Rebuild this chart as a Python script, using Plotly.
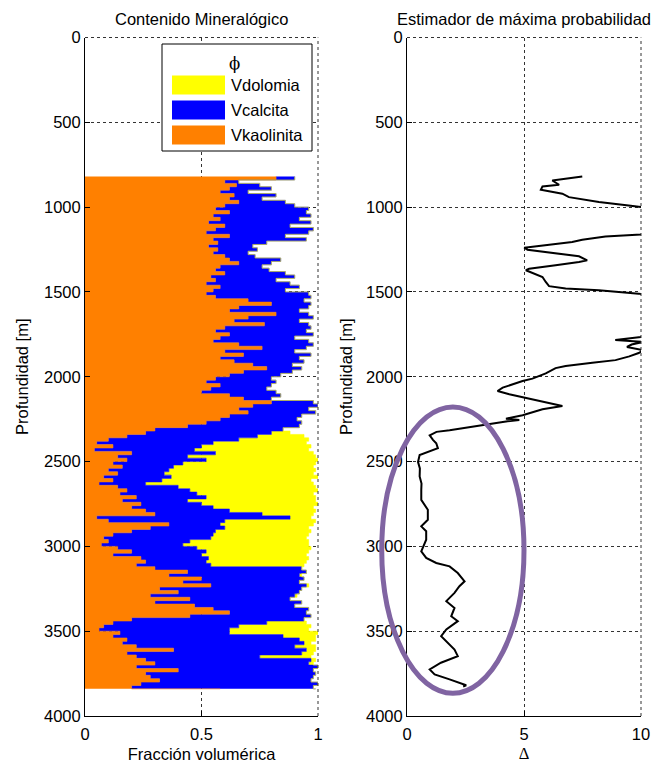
import plotly.graph_objects as go

# ---------------- data ----------------
depth = [820, 840, 860, 880, 900, 920, 940, 960, 980, 1000,
         1020, 1040, 1060, 1080, 1100, 1120, 1140, 1160, 1180, 1200,
         1220, 1240, 1260, 1280, 1300, 1320, 1340, 1360, 1380, 1400,
         1420, 1440, 1460, 1480, 1500, 1520, 1540, 1560, 1580, 1600,
         1620, 1640, 1660, 1680, 1700, 1720, 1740, 1760, 1780, 1800,
         1820, 1840, 1860, 1880, 1900, 1920, 1940, 1960, 1980, 2000,
         2020, 2040, 2060, 2080, 2100, 2120, 2140, 2160, 2180, 2200,
         2220, 2240, 2260, 2280, 2300, 2320, 2340, 2360, 2380, 2400,
         2420, 2440, 2460, 2480, 2500, 2520, 2540, 2560, 2580, 2600,
         2620, 2640, 2660, 2680, 2700, 2720, 2740, 2760, 2780, 2800,
         2820, 2840, 2860, 2880, 2900, 2920, 2940, 2960, 2980, 3000,
         3020, 3040, 3060, 3080, 3100, 3120, 3140, 3160, 3180, 3200,
         3220, 3240, 3260, 3280, 3300, 3320, 3340, 3360, 3380, 3400,
         3420, 3440, 3460, 3480, 3500, 3520, 3540, 3560, 3580, 3600,
         3620, 3640, 3660, 3680, 3700, 3720, 3740, 3760, 3780, 3800,
         3820, 3840]

Vkaolinita = [.82, .60, .65, .62, .58, .64, .62, .66, .60, .56,
              .62, .55, .58, .53, .60, .56, .52, .62, .55, .57,
              .53, .57, .55, .60, .62, .66, .58, .56, .60, .54,
              .56, .52, .58, .55, .52, .56, .70, .80, .66, .62,
              .82, .70, .64, .77, .60, .56, .62, .58, .55, .66,
              .76, .60, .68, .58, .64, .72, .78, .68, .62, .56,
              .52, .58, .54, .50, .62, .68, .80, .72, .66, .70,
              .62, .58, .52, .44, .30, .26, .18, .10, .05, .12,
              .04, .20, .14, .18, .12, .16, .10, .14, .08, .12,
              .06, .14, .18, .15, .22, .16, .24, .20, .26, .30,
              .05, .10, .36, .28, .20, .12, .08, .10, .07, .14,
              .20, .12, .24, .26, .22, .30, .44, .36, .50, .42,
              .54, .32, .40, .28, .45, .30, .47, .55, .62, .45,
              .20, .12, .08, .06, .15, .12, .18, .16, .22, .38,
              .18, .22, .26, .30, .22, .40, .26, .28, .32, .24,
              .20, .58]

Vcalcita = [.08, .06, .10, .18, .12, .18, .14, .20, .30, .40,
            .33, .42, .34, .44, .28, .42, .44, .24, .40, .21,
            .19, .17, .15, .13, .22, .14, .18, .23, .26, .36,
            .26, .36, .34, .31, .44, .41, .24, .17, .30, .30,
            .14, .28, .28, .19, .37, .39, .36, .32, .41, .32,
            .19, .30, .29, .34, .30, .17, .15, .21, .22, .24,
            .30, .22, .24, .32, .22, .12, .18, .28, .30, .29,
            .31, .33, .41, .48, .55, .54, .56, .56, .50, .38,
            .43, .36, .30, .34, .30, .22, .26, .20, .29, .21,
            .20, .26, .27, .33, .30, .28, .26, .35, .36, .46,
            .83, .50, .22, .32, .36, .43, .46, .35, .35, .34,
            .32, .38, .29, .26, .32, .63, .51, .56, .44, .50,
            .41, .61, .52, .62, .43, .63, .43, .41, .33, .52,
            .74, .66, .58, .56, .47, .73, .74, .78, .68, .57,
            .75, .53, .71, .66, .78, .58, .73, .70, .65, .76,
            .78, .41]

Vdolomia = [0, 0, 0, 0, 0, 0, 0, 0, 0, 0,
            0, 0, 0, 0, 0, 0, 0, 0, 0, 0,
            0, 0, 0, 0, 0, 0, 0, 0, 0, 0,
            0, 0, 0, 0, 0, 0, 0, 0, 0, 0,
            0, 0, 0, 0, 0, 0, 0, 0, 0, 0,
            0, 0, 0, 0, 0, 0, 0, 0, 0, 0,
            0, 0, 0, 0, 0, 0, 0, 0, 0, 0,
            0, 0, 0, 0, 0, .08, .20, .30, .40, .47,
            .49, .42, .55, .48, .57, .60, .63, .64, .63, .64,
            .72, .59, .55, .50, .47, .55, .50, .43, .37, .22,
            .09, .39, .40, .36, .41, .41, .41, .51, .54, .49,
            .44, .45, .43, .43, .40, 0, 0, .01, 0, 0,
            .01, 0, 0, .01, 0, 0, 0, 0, 0, 0,
            0, .17, .31, .34, .38, .14, .07, .03, .09, .04,
            .05, .22, .02, .02, 0, 0, 0, 0, 0, 0,
            0, 0]

# maximum-likelihood estimator profile (Delta vs depth)
delta_depth = [819, 843, 868, 878, 898, 921, 941, 970, 990, 1000,
               1080, 1161, 1173, 1192, 1206, 1225, 1239, 1251, 1270, 1290,
               1314, 1323, 1343, 1363, 1372, 1396, 1412, 1441, 1466, 1480,
               1490, 1510, 1520, 1640, 1765, 1784, 1794, 1810, 1824, 1843,
               1860, 1880, 1902, 1917, 1937, 1949, 1980, 2011, 2025, 2064,
               2084, 2103, 2133, 2172, 2192, 2227, 2247, 2255, 2262, 2286,
               2315, 2325, 2345, 2372, 2392, 2421, 2461, 2502, 2540, 2588,
               2630, 2667, 2726, 2784, 2843, 2882, 2911, 2961, 3029, 3068,
               3098, 3118, 3157, 3206, 3235, 3274, 3323, 3363, 3412, 3441,
               3490, 3529, 3568, 3608, 3647, 3686, 3725, 3755, 3784, 3819,
               3826]
delta_val = [7.49, 6.21, 6.50, 5.79, 5.72, 6.64, 6.92, 8.20, 9.47, 10.0,
             11.5, 10.0, 8.48, 7.49, 7.06, 5.93, 5.01, 5.15, 6.35, 7.35,
             7.70, 7.35, 6.35, 5.22, 5.08, 5.50, 5.79, 5.93, 6.07, 6.78,
             8.20, 9.90, 10.3, 11.5, 10.0, 8.90, 10.1, 9.60, 9.40, 10.1,
             9.90, 9.50, 8.91, 7.92, 6.78, 6.35, 5.93, 5.36, 4.94, 4.09,
             3.87, 4.37, 5.36, 6.64, 5.79, 4.94, 4.23, 4.80, 4.30, 3.24,
             1.82, 1.26, 0.97, 1.11, 1.25, 1.32, 0.54, 0.47, 0.55, 0.54,
             0.62, 0.61, 0.61, 0.89, 0.89, 0.61, 0.82, 0.82, 0.61, 0.82,
             1.25, 1.82, 2.17, 2.46, 2.24, 2.03, 1.68, 2.03, 1.89, 2.17,
             1.68, 1.46, 1.74, 2.03, 2.17, 1.45, 0.97, 1.18, 1.82, 2.53,
             2.40]

# highlight ellipse (data units of right panel)
ellipse_x = [-1.08, 5.0]
ellipse_y = [2178, 3866]

mineral_names = ["Vkaolinita", "Vcalcita", "Vdolomia"]
mineral_colors = ["#FF8000", "#0000FF", "#FFFF00"]
mineral_values = [Vkaolinita, Vcalcita, Vdolomia]

x_ticks_left = [0, 0.5, 1]
x_ticks_right = [0, 5, 10]
y_ticks = [0, 500, 1000, 1500, 2000, 2500, 3000, 3500, 4000]

# ---------------- layout geometry ----------------
W, H = 657, 763
dom_x1 = [85 / W, 318 / W]
dom_x2 = [407 / W, 641 / W]
dom_y = [1 - 716 / H, 1 - 37.5 / H]
rng_x1 = [0, 1]
rng_x2 = [0, 10]
rng_y = [4000, 0]

FONT = "Liberation Sans, Arial, sans-serif"
FS = 16.5


def to_paper(dom, rng, v):
    return dom[0] + (v - rng[0]) / (rng[1] - rng[0]) * (dom[1] - dom[0])


fig = go.Figure()

for name, col, vals in zip(mineral_names, mineral_colors, mineral_values):
    fig.add_trace(go.Scatter(
        x=vals, y=depth, name=name, mode="lines",
        stackgroup="min", orientation="h",
        line=dict(color=col, width=0.6, shape="vh"),
        fillcolor=col, showlegend=False,
        xaxis="x", yaxis="y"))

fig.add_trace(go.Scatter(
    x=delta_val, y=delta_depth, mode="lines", name="Δ",
    line=dict(color="black", width=2), showlegend=False,
    xaxis="x2", yaxis="y2"))

axis_common = dict(
    showline=True, linecolor="black", linewidth=1, mirror=False,
    showgrid=True, gridcolor="#333333", griddash="dot", gridwidth=1,
    zeroline=False, ticks="inside", ticklen=5, tickcolor="black",
    tickfont=dict(family=FONT, size=FS, color="black"),
    automargin=False,
)

fig.update_layout(
    width=W, height=H,
    margin=dict(l=0, r=0, t=0, b=0),
    paper_bgcolor="white", plot_bgcolor="white",
    font=dict(family=FONT, size=FS, color="black"),
    xaxis=dict(domain=dom_x1, range=rng_x1, anchor="y", tickvals=x_ticks_left,
               ticktext=["0", "0.5", "1"], ticklabelstandoff=3,
               title=dict(text="Fracción volumérica", standoff=6,
                          font=dict(family=FONT, size=FS)), **axis_common),
    yaxis=dict(domain=dom_y, range=rng_y, anchor="x", tickvals=y_ticks,
               title=dict(text="Profundidad [m]", standoff=11,
                          font=dict(family=FONT, size=FS)), **axis_common),
    xaxis2=dict(domain=dom_x2, range=rng_x2, anchor="y2", tickvals=x_ticks_right,
                ticklabelstandoff=3,
                title=dict(text="Δ", standoff=6,
                           font=dict(family="Liberation Serif, Times New Roman, serif", size=FS)),
                **axis_common),
    yaxis2=dict(domain=dom_y, range=rng_y, anchor="x2", tickvals=y_ticks,
                title=dict(text="Profundidad [m]", standoff=9,
                           font=dict(family=FONT, size=FS)), **axis_common),
)

shapes = []
# dotted top / right frame lines (MATLAB grid at range ends)
for dx in (dom_x1, dom_x2):
    shapes.append(dict(type="line", xref="paper", yref="paper",
                       x0=dx[0], x1=dx[1], y0=dom_y[1], y1=dom_y[1],
                       line=dict(color="#333333", width=1, dash="dot")))
    shapes.append(dict(type="line", xref="paper", yref="paper",
                       x0=dx[1], x1=dx[1], y0=dom_y[0], y1=dom_y[1],
                       line=dict(color="#333333", width=1, dash="dot")))

# highlight ellipse
shapes.append(dict(type="circle", xref="paper", yref="paper",
                   x0=to_paper(dom_x2, rng_x2, ellipse_x[0]),
                   x1=to_paper(dom_x2, rng_x2, ellipse_x[1]),
                   y0=to_paper(dom_y, rng_y, ellipse_y[1]),
                   y1=to_paper(dom_y, rng_y, ellipse_y[0]),
                   line=dict(color="#8064A2", width=5)))

# custom legend (box, patches)
lg_box = dict(x0=162 / W, x1=312 / W, y0=1 - 151 / H, y1=1 - 44 / H)
shapes.append(dict(type="rect", xref="paper", yref="paper", **lg_box,
                   line=dict(color="black", width=1), fillcolor="white", layer="above"))
annotations = []
legend_order = [2, 1, 0]
for i, idx in enumerate(legend_order):
    cy = 85 + 25 * i
    shapes.append(dict(type="rect", xref="paper", yref="paper",
                       x0=172 / W, x1=225 / W, y0=1 - (cy + 9.5) / H, y1=1 - (cy - 9.5) / H,
                       line=dict(width=0), fillcolor=mineral_colors[idx], layer="above"))
    annotations.append(dict(text=mineral_names[idx], xref="paper", yref="paper",
                            x=229 / W, y=1 - cy / H, xanchor="left", yanchor="middle",
                            showarrow=False, font=dict(family=FONT, size=FS, color="black")))
annotations.append(dict(text="ϕ", xref="paper", yref="paper", x=234 / W, y=1 - 64 / H,
                        xanchor="center", yanchor="middle", showarrow=False,
                        font=dict(family="DejaVu Serif, serif", size=FS, color="black")))

# panel titles
annotations.append(dict(text="Contenido Mineralógico", xref="paper", yref="paper",
                        x=(dom_x1[0] + dom_x1[1]) / 2, y=1 - 19 / H,
                        xanchor="center", yanchor="middle", showarrow=False,
                        font=dict(family=FONT, size=FS, color="black")))
annotations.append(dict(text="Estimador de máxima probabilidad", xref="paper", yref="paper",
                        x=(dom_x2[0] + dom_x2[1]) / 2, y=1 - 19 / H,
                        xanchor="center", yanchor="middle", showarrow=False,
                        font=dict(family=FONT, size=FS, color="black")))

fig.update_layout(shapes=shapes, annotations=annotations)

fig.write_html("out.html", config={"displayModeBar": False},
               post_script="document.body.style.margin='0';document.body.style.overflow='hidden';")
